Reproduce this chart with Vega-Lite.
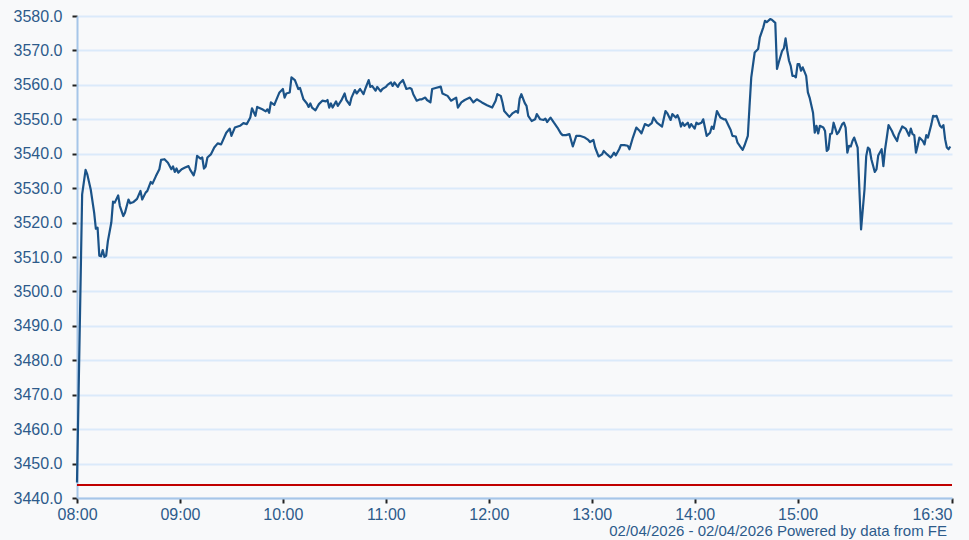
{
 "$schema": "https://vega.github.io/schema/vega-lite/v6.json",
 "width": 875,
 "height": 482,
 "autosize": {"type": "none"},
 "padding": {"left": 77, "top": 16, "right": 17, "bottom": 42},
 "background": "#f8f9fa",
 "config": {"view": {"stroke": null}, "font": "Liberation Sans"},
 "title": {"text": "02/04/2026 - 02/04/2026 Powered by data from FE", "orient": "bottom", "anchor": "end", "frame": "group", "fontSize": 15, "fontWeight": "normal", "color": "#2d5b8b", "font": "Liberation Sans", "offset": 2, "dx": -5},
 "layer": [
  {
   "data": {"values": [{"t": "08:00", "prev": 3443.8}, {"t": "16:30", "prev": 3443.8}], "format": {"parse": {"t": "date:'%H:%M'"}}},
   "mark": {"type": "line", "color": "#c00000", "strokeWidth": 2},
   "encoding": {
    "x": {"field": "t", "type": "temporal"},
    "y": {"field": "prev", "type": "quantitative"}
   }
  },
  {
   "data": {"values": [
{"t":"08:00","p":3444.5},{"t":"08:03","p":3528.2},{"t":"08:05","p":3535.3},{"t":"08:06","p":3534},{"t":"08:08","p":3529.6},{"t":"08:10","p":3522.9},{"t":"08:11","p":3518.2},{"t":"08:12","p":3518.5},{"t":"08:13","p":3510.4},{"t":"08:14","p":3510.2},{"t":"08:15","p":3512},{"t":"08:16","p":3510},{"t":"08:17","p":3510.4},{"t":"08:18","p":3514.6},{"t":"08:20","p":3520},{"t":"08:21","p":3526.1},{"t":"08:22","p":3525.8},{"t":"08:24","p":3527.9},{"t":"08:25","p":3524.8},{"t":"08:27","p":3521.9},{"t":"08:28","p":3522.9},{"t":"08:30","p":3526.7},{"t":"08:31","p":3525.6},{"t":"08:33","p":3526},{"t":"08:35","p":3526.9},{"t":"08:37","p":3529.2},{"t":"08:38","p":3526.7},{"t":"08:40","p":3528.7},{"t":"08:41","p":3529.2},{"t":"08:43","p":3531.8},{"t":"08:44","p":3531.3},{"t":"08:46","p":3533.5},{"t":"08:48","p":3535.5},{"t":"08:49","p":3538.2},{"t":"08:51","p":3538.4},{"t":"08:53","p":3537.4},{"t":"08:55","p":3535.5},{"t":"08:56","p":3536.3},{"t":"08:57","p":3534.7},{"t":"08:58","p":3535.7},{"t":"08:59","p":3534.5},
{"t":"09:01","p":3535.5},{"t":"09:03","p":3536},{"t":"09:05","p":3536.4},{"t":"09:06","p":3535.3},{"t":"09:08","p":3533.7},{"t":"09:09","p":3535.5},{"t":"09:10","p":3539.4},{"t":"09:12","p":3538.6},{"t":"09:13","p":3538.9},{"t":"09:14","p":3535.7},{"t":"09:15","p":3536.3},{"t":"09:16","p":3538.9},{"t":"09:18","p":3539.8},{"t":"09:19","p":3540.8},{"t":"09:20","p":3541.8},{"t":"09:22","p":3543},{"t":"09:24","p":3542.7},{"t":"09:27","p":3546.1},{"t":"09:29","p":3547.3},{"t":"09:30","p":3545.2},{"t":"09:32","p":3547.6},{"t":"09:35","p":3548.1},{"t":"09:37","p":3548.9},{"t":"09:39","p":3548.6},{"t":"09:41","p":3550.5},{"t":"09:42","p":3553.2},{"t":"09:44","p":3551},{"t":"09:45","p":3553.6},{"t":"09:48","p":3552.9},{"t":"09:50","p":3552.3},{"t":"09:51","p":3552.9},{"t":"09:52","p":3551.9},{"t":"09:53","p":3554.9},{"t":"09:55","p":3554.2},{"t":"09:56","p":3555.4},{"t":"09:58","p":3557.8},
{"t":"10:00","p":3558.8},{"t":"10:01","p":3556.3},{"t":"10:02","p":3557.5},{"t":"10:04","p":3557.8},{"t":"10:05","p":3562.2},{"t":"10:07","p":3561.4},{"t":"10:09","p":3558.8},{"t":"10:10","p":3559.1},{"t":"10:12","p":3555.8},{"t":"10:14","p":3554.6},{"t":"10:15","p":3553.6},{"t":"10:16","p":3554.6},{"t":"10:17","p":3553.4},{"t":"10:19","p":3552.6},{"t":"10:21","p":3554.4},{"t":"10:23","p":3555.4},{"t":"10:25","p":3555.2},{"t":"10:26","p":3555.6},{"t":"10:27","p":3553.4},{"t":"10:28","p":3554.6},{"t":"10:29","p":3553.4},{"t":"10:31","p":3555.2},{"t":"10:32","p":3553.9},{"t":"10:34","p":3555.4},{"t":"10:36","p":3557.5},{"t":"10:37","p":3555.6},{"t":"10:39","p":3554.2},{"t":"10:40","p":3556.3},{"t":"10:42","p":3558.5},{"t":"10:43","p":3557.5},{"t":"10:45","p":3558.8},{"t":"10:47","p":3557.3},{"t":"10:48","p":3558.8},{"t":"10:50","p":3561.4},{"t":"10:51","p":3559.4},{"t":"10:52","p":3559.7},{"t":"10:54","p":3558.3},{"t":"10:55","p":3559.4},{"t":"10:57","p":3558.1},{"t":"10:58","p":3558.8},
{"t":"11:00","p":3559.4},{"t":"11:01","p":3560},{"t":"11:03","p":3560.7},{"t":"11:04","p":3559.7},{"t":"11:05","p":3560.7},{"t":"11:07","p":3559.4},{"t":"11:08","p":3560.4},{"t":"11:10","p":3561.4},{"t":"11:12","p":3558.8},{"t":"11:14","p":3559.1},{"t":"11:15","p":3558.8},{"t":"11:16","p":3557.3},{"t":"11:18","p":3555.4},{"t":"11:20","p":3555.8},{"t":"11:21","p":3555.8},{"t":"11:23","p":3556.3},{"t":"11:24","p":3555.6},{"t":"11:26","p":3554.9},{"t":"11:27","p":3558.8},{"t":"11:29","p":3559.1},{"t":"11:32","p":3559.5},{"t":"11:33","p":3557.5},{"t":"11:36","p":3556.8},{"t":"11:38","p":3555.4},{"t":"11:41","p":3556.3},{"t":"11:42","p":3553.4},{"t":"11:44","p":3554.9},{"t":"11:46","p":3555.6},{"t":"11:49","p":3556.3},{"t":"11:51","p":3554.9},{"t":"11:53","p":3555.8},{"t":"11:56","p":3554.9},{"t":"11:59","p":3554.1},
{"t":"12:02","p":3553.4},{"t":"12:04","p":3555.4},{"t":"12:05","p":3557.3},{"t":"12:07","p":3556.8},{"t":"12:08","p":3554.9},{"t":"12:09","p":3552.4},{"t":"12:12","p":3550.7},{"t":"12:14","p":3551.8},{"t":"12:16","p":3552.4},{"t":"12:17","p":3551.9},{"t":"12:18","p":3556},{"t":"12:19","p":3557.3},{"t":"12:21","p":3554.7},{"t":"12:22","p":3553.9},{"t":"12:23","p":3551},{"t":"12:25","p":3549.5},{"t":"12:27","p":3550},{"t":"12:28","p":3551.5},{"t":"12:30","p":3550},{"t":"12:32","p":3549.8},{"t":"12:33","p":3550.2},{"t":"12:34","p":3549.2},{"t":"12:36","p":3550.5},{"t":"12:38","p":3549},{"t":"12:40","p":3547.6},{"t":"12:42","p":3545.9},{"t":"12:43","p":3545.4},{"t":"12:45","p":3545.4},{"t":"12:47","p":3545.7},{"t":"12:49","p":3542.1},{"t":"12:51","p":3545.2},{"t":"12:53","p":3545.2},{"t":"12:56","p":3544.7},{"t":"12:58","p":3544},{"t":"12:59","p":3543.4},
{"t":"13:01","p":3544},{"t":"13:02","p":3541.8},{"t":"13:04","p":3539.2},{"t":"13:06","p":3539.8},{"t":"13:07","p":3540.8},{"t":"13:09","p":3539.8},{"t":"13:11","p":3538.9},{"t":"13:12","p":3539.5},{"t":"13:13","p":3540.3},{"t":"13:14","p":3539.5},{"t":"13:16","p":3541.3},{"t":"13:17","p":3542.5},{"t":"13:19","p":3542.5},{"t":"13:21","p":3542.3},{"t":"13:22","p":3541.3},{"t":"13:24","p":3544.7},{"t":"13:26","p":3547.6},{"t":"13:28","p":3546.6},{"t":"13:29","p":3545.9},{"t":"13:31","p":3548.6},{"t":"13:33","p":3548.1},{"t":"13:35","p":3548.9},{"t":"13:36","p":3550.5},{"t":"13:38","p":3549},{"t":"13:41","p":3547.9},{"t":"13:43","p":3552.4},{"t":"13:44","p":3551.8},{"t":"13:46","p":3549.8},{"t":"13:47","p":3551.5},{"t":"13:49","p":3550.5},{"t":"13:50","p":3551.2},{"t":"13:51","p":3550},{"t":"13:52","p":3547.9},{"t":"13:53","p":3549},{"t":"13:54","p":3548.1},{"t":"13:56","p":3549},{"t":"13:57","p":3547.6},{"t":"13:58","p":3548.6},
{"t":"14:00","p":3547.3},{"t":"14:01","p":3549},{"t":"14:02","p":3548.6},{"t":"14:04","p":3549},{"t":"14:05","p":3550},{"t":"14:07","p":3545.2},{"t":"14:09","p":3546.1},{"t":"14:10","p":3547.9},{"t":"14:11","p":3547.2},{"t":"14:13","p":3552.4},{"t":"14:15","p":3550.5},{"t":"14:17","p":3550},{"t":"14:18","p":3550},{"t":"14:20","p":3547.9},{"t":"14:21","p":3546.9},{"t":"14:22","p":3545.2},{"t":"14:24","p":3545},{"t":"14:25","p":3543.2},{"t":"14:27","p":3541.8},{"t":"14:28","p":3541.1},{"t":"14:29","p":3542.3},{"t":"14:31","p":3545.2},{"t":"14:32","p":3553.9},{"t":"14:33","p":3562.2},{"t":"14:35","p":3569.4},{"t":"14:37","p":3570.4},{"t":"14:38","p":3573.8},{"t":"14:40","p":3576.7},{"t":"14:41","p":3578.6},{"t":"14:42","p":3578.2},{"t":"14:44","p":3579.1},{"t":"14:45","p":3578.9},{"t":"14:47","p":3578},{"t":"14:48","p":3564.6},{"t":"14:49","p":3566.5},{"t":"14:51","p":3569.9},{"t":"14:52","p":3570.6},{"t":"14:53","p":3573.5},{"t":"14:54","p":3569.9},{"t":"14:55","p":3567},{"t":"14:56","p":3565.5},{"t":"14:57","p":3562.6},{"t":"14:58","p":3562.6},{"t":"14:59","p":3562.2},
{"t":"15:00","p":3566},{"t":"15:01","p":3566},{"t":"15:02","p":3564.1},{"t":"15:03","p":3565.1},{"t":"15:05","p":3562.6},{"t":"15:06","p":3557.8},{"t":"15:07","p":3556.3},{"t":"15:09","p":3551.9},{"t":"15:10","p":3546.1},{"t":"15:11","p":3548.1},{"t":"15:12","p":3545.9},{"t":"15:13","p":3548.1},{"t":"15:15","p":3547.6},{"t":"15:16","p":3546.6},{"t":"15:17","p":3540.8},{"t":"15:18","p":3541.3},{"t":"15:19","p":3545.7},{"t":"15:20","p":3545.9},{"t":"15:21","p":3549},{"t":"15:23","p":3545.7},{"t":"15:24","p":3546.3},{"t":"15:26","p":3548.6},{"t":"15:27","p":3549},{"t":"15:28","p":3547.6},{"t":"15:29","p":3540.3},{"t":"15:30","p":3542.3},{"t":"15:31","p":3542.1},{"t":"15:32","p":3543.7},{"t":"15:33","p":3544.7},{"t":"15:34","p":3543.2},{"t":"15:35","p":3541.8},{"t":"15:37","p":3518},{"t":"15:39","p":3529.6},{"t":"15:40","p":3539.3},{"t":"15:41","p":3541.8},{"t":"15:42","p":3541.3},{"t":"15:43","p":3538.4},{"t":"15:45","p":3534.7},{"t":"15:46","p":3535.5},{"t":"15:47","p":3539.5},{"t":"15:49","p":3541.3},{"t":"15:50","p":3536.4},{"t":"15:51","p":3541.3},{"t":"15:52","p":3544.7},{"t":"15:53","p":3548.3},{"t":"15:55","p":3546.6},{"t":"15:56","p":3545.4},{"t":"15:58","p":3543.7},{"t":"15:59","p":3545.7},
{"t":"16:01","p":3547.9},{"t":"16:03","p":3547.3},{"t":"16:04","p":3546.3},{"t":"16:05","p":3545.2},{"t":"16:06","p":3547.3},{"t":"16:07","p":3545.7},{"t":"16:08","p":3545.4},{"t":"16:09","p":3540.3},{"t":"16:10","p":3542.3},{"t":"16:11","p":3544.7},{"t":"16:13","p":3543.7},{"t":"16:14","p":3542.7},{"t":"16:15","p":3545.4},{"t":"16:16","p":3544.7},{"t":"16:18","p":3548.6},{"t":"16:19","p":3551},{"t":"16:20","p":3550.8},{"t":"16:21","p":3551},{"t":"16:23","p":3548.1},{"t":"16:24","p":3547.6},{"t":"16:25","p":3548.3},{"t":"16:26","p":3544.2},{"t":"16:27","p":3541.8},{"t":"16:28","p":3541.3},{"t":"16:29","p":3542.1}
   ], "format": {"parse": {"t": "date:'%H:%M'"}}},
   "mark": {"type": "line", "color": "#1b5388", "strokeWidth": 2.2, "strokeJoin": "round"},
   "encoding": {
    "x": {"field": "t", "type": "temporal"},
    "y": {"field": "p", "type": "quantitative"}
   }
  }
 ],
 "encoding": {
  "x": {
   "field": "t", "type": "temporal", "title": null,
   "scale": {"domain": [{"year": 1900, "month": 1, "date": 1, "hours": 8, "minutes": 0}, {"year": 1900, "month": 1, "date": 1, "hours": 16, "minutes": 30}], "nice": false},
   "axis": {
    "values": [
     {"year": 1900, "month": 1, "date": 1, "hours": 8, "minutes": 0},
     {"year": 1900, "month": 1, "date": 1, "hours": 9, "minutes": 0},
     {"year": 1900, "month": 1, "date": 1, "hours": 10, "minutes": 0},
     {"year": 1900, "month": 1, "date": 1, "hours": 11, "minutes": 0},
     {"year": 1900, "month": 1, "date": 1, "hours": 12, "minutes": 0},
     {"year": 1900, "month": 1, "date": 1, "hours": 13, "minutes": 0},
     {"year": 1900, "month": 1, "date": 1, "hours": 14, "minutes": 0},
     {"year": 1900, "month": 1, "date": 1, "hours": 15, "minutes": 0},
     {"year": 1900, "month": 1, "date": 1, "hours": 16, "minutes": 30}
    ],
    "format": "%H:%M",
    "grid": false,
    "domainColor": "#a6c6e8", "domainWidth": 2,
    "tickColor": "#222222", "tickWidth": 2, "tickSize": 5,
    "labelFontSize": 16, "labelColor": "#2d5b8b", "labelPadding": 3,
    "labelFlush": false, "labelOverlap": false, "labelBound": false,
    "labelAlign": {"condition": {"test": "hours(datum.value) == 16", "value": "right"}, "value": "center"}
   }
  },
  "y": {
   "field": "p", "type": "quantitative", "title": null,
   "scale": {"domain": [3440, 3580], "nice": false, "zero": false},
   "axis": {
    "values": [3440, 3450, 3460, 3470, 3480, 3490, 3500, 3510, 3520, 3530, 3540, 3550, 3560, 3570, 3580],
    "format": ".1f",
    "grid": true, "gridColor": "#dbeafa", "gridWidth": 2,
    "domainColor": "#a6c6e8", "domainWidth": 2,
    "tickColor": "#222222", "tickWidth": 2, "tickSize": 5,
    "labelFontSize": 16, "labelColor": "#2d5b8b", "labelPadding": 10,
    "labelOverlap": false, "labelBound": false
   }
  }
 }
}
